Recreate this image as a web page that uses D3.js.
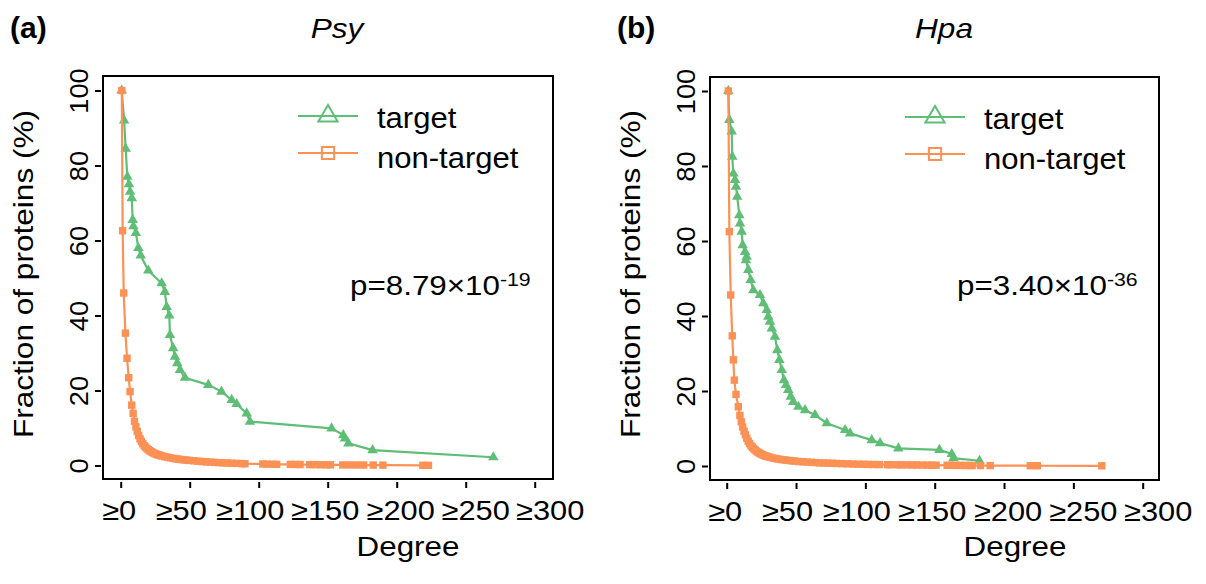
<!DOCTYPE html>
<html>
<head>
<meta charset="utf-8">
<script src="https://cdn.jsdelivr.net/npm/d3@7"></script>
<style>
  body { margin: 0; background: #fff; }
  svg { display: block; }
</style>
</head>
<body>
<div id="chart"></div>
<script>
// tick values
const degreeTicks = [0, 50, 100, 150, 200, 250, 300];
const pctTicks = [0, 20, 40, 60, 80, 100];
// the original spreads the crowded degree labels a little around their ticks
const degreeLabelNudge = [-2, -9, -9, -3, 3.5, 9.5, 15];

// Psy: [degree, fraction %]
const psyTarget = [
  [0.7, 100], [2.5, 92], [3.6, 84.5], [4.8, 77], [6, 75], [6.8, 73], [8, 71.3], [8.7, 65.5],
  [9.2, 63.8], [11, 62], [12.8, 58], [14.5, 56], [20, 52], [29.7, 48.6], [32, 46.3], [33.3, 42.3],
  [35.2, 40], [35.7, 34.8], [38, 31.3], [39.3, 29], [41, 27.3], [43, 25.5], [46.6, 23.4],
  [63.5, 21.5], [73, 19.7], [80.4, 17.5], [84, 16.4], [91.3, 13.9], [93.7, 11.7], [152.8, 9.9],
  [161.3, 8.1], [162.5, 7.2], [165, 5.9], [182.5, 4.1], [270, 2.2]
];
const psyNonTarget = [
  [0.8, 100], [1.4, 62.6], [2.2, 46], [3.4, 35.3], [4.6, 28.6], [5.8, 23.4], [6.8, 19.7], [8, 16.1],
  [9, 13.9], [10, 11.8], [11, 10.3], [12, 9.1], [13, 8], [14, 7.1], [15, 6.4], [16, 5.8], [17, 5.3],
  [18, 4.9], [19, 4.5], [20, 4.2], [21, 3.95], [22, 3.7], [23, 3.5], [24, 3.3], [25, 3.15], [26, 3],
  [27, 2.85], [28, 2.75], [29, 2.65], [30, 2.55], [32, 2.35], [34, 2.2], [36, 2.05], [38, 1.9],
  [40, 1.78], [42, 1.68], [44, 1.58], [46, 1.5], [48, 1.42], [50, 1.35], [53, 1.25], [56, 1.15],
  [59, 1.05], [62, 0.98], [65, 0.9], [68, 0.83], [71, 0.77], [74, 0.72], [77, 0.67], [80, 0.62],
  [84, 0.56], [88, 0.5], [90, 0.46], [103, 0.4], [106, 0.37], [110, 0.34], [113, 0.32], [123, 0.3],
  [127, 0.28], [130, 0.26], [137, 0.24], [141, 0.22], [145, 0.2], [149, 0.19], [152, 0.18],
  [161, 0.16], [166, 0.15], [171, 0.14], [176, 0.13], [183, 0.12], [190, 0.1], [219, 0.06], [223, 0.05]
];

// Hpa: [degree, fraction %]
const hpaTarget = [
  [1.2, 100], [1.9, 92.3], [3.6, 89.2], [4, 82.5], [4.8, 78], [6, 76.3], [6.7, 74.5], [7.6, 71.8],
  [9.1, 66.9], [9.6, 64.7], [10.8, 62.5], [11.5, 58.9], [13.2, 57.1], [14.4, 55.8], [13.9, 54.9],
  [15.6, 52.3], [17.3, 49.6], [19.2, 46.9], [24, 45.6], [26.4, 43.4], [28.9, 41.6], [30, 39.8],
  [31.2, 38.5], [32.5, 36.7], [34.8, 34.5], [36.5, 30.9], [38, 28.3], [39.7, 25.6], [41.3, 22.9],
  [42.8, 21.6], [44.4, 20.3], [46.2, 18.5], [48, 17.1], [51.7, 15.8], [56.5, 14.9], [63.7, 13.6],
  [72.2, 11.4], [85.4, 9.6], [89, 8.7], [104.6, 6.9], [110.6, 6.1], [123.8, 4.7], [153.4, 4.3],
  [162.3, 3.2], [163.5, 2.1], [182.3, 1.4]
];
const hpaNonTarget = [
  [1.2, 100], [1.9, 62.5], [2.9, 45.6], [4, 34.7], [4.8, 28.3], [5.5, 22.9], [6.7, 19.1], [8.4, 15.8],
  [9.5, 13.5], [10.5, 11.8], [11.5, 10.4], [12.5, 9.3], [13.5, 8.3], [14.5, 7.4], [15.5, 6.6],
  [16.5, 6], [17.5, 5.4], [18.5, 5], [19.5, 4.6], [20.5, 4.25], [21.5, 3.95], [22.5, 3.7], [23.5, 3.45],
  [24.5, 3.25], [25.5, 3.05], [26.5, 2.9], [27.5, 2.75], [28.5, 2.6], [29.5, 2.5], [31, 2.35],
  [33, 2.15], [35, 2], [37, 1.85], [39, 1.75], [41, 1.65], [43, 1.55], [45, 1.47], [47, 1.4],
  [49, 1.32], [52, 1.2], [55, 1.12], [58, 1.04], [61, 0.97], [64, 0.91], [67, 0.85], [70, 0.8],
  [73, 0.76], [76, 0.72], [79, 0.68], [83, 0.63], [87, 0.58], [91, 0.53], [95, 0.48], [99, 0.45],
  [102, 0.42], [106, 0.4], [110, 0.38], [116, 0.35], [118, 0.34], [123, 0.32], [126, 0.31],
  [130, 0.3], [134, 0.28], [137, 0.27], [141, 0.25], [145, 0.24], [148, 0.22], [151, 0.21],
  [159, 0.19], [162, 0.18], [165, 0.17], [168, 0.16], [172, 0.15], [175, 0.14], [177, 0.13],
  [183, 0.12], [190, 0.11], [219, 0.08], [224, 0.07], [270.5, 0.05]
];

const seriesNames = ["target", "non-target"];
const green = "#5fbe76", orange = "#fc9156";
const FONT = "'Liberation Sans', Arial, Helvetica, sans-serif";

const width = 1206, height = 584;
const svg = d3.select("#chart").append("svg")
  .attr("width", width)
  .attr("height", height)
  .style("font-family", FONT);

const panels = [
  { tag: "(a)", species: "Psy", p: "8.79", exp: "-19", target: psyTarget, nonTarget: psyNonTarget,
    l: 103, t: 76, r: 553, b: 479, x0: 120.7, x1: 534.7, y0: 465.5, y1: 90.5 },
  { tag: "(b)", species: "Hpa", p: "3.40", exp: "-36", target: hpaTarget, nonTarget: hpaNonTarget,
    l: 710, t: 77, r: 1159, b: 480, x0: 726.7, x1: 1142.7, y0: 466, y1: 91 }
];

// text with a slight horizontal stretch, like the original
function stext(parent, x, y, str, size, sx, rot) {
  return parent.append("text")
    .attr("transform", `translate(${x},${y})` + (rot ? ` rotate(${rot})` : "") + ` scale(${sx},1)`)
    .attr("font-size", size)
    .attr("fill", "#000")
    .text(str);
}

panels.forEach(p => {
  const g = svg.append("g");
  const x = d3.scaleLinear().domain([0, 300]).range([p.x0, p.x1]);
  const y = d3.scaleLinear().domain([0, 100]).range([p.y0, p.y1]);

  // frame
  g.append("rect")
    .attr("x", p.l).attr("y", p.t)
    .attr("width", p.r - p.l).attr("height", p.b - p.t)
    .attr("fill", "none").attr("stroke", "#000").attr("stroke-width", 2);

  // x axis
  const xa = g.append("g")
    .attr("transform", `translate(0,${p.b + 3})`)
    .call(d3.axisBottom(x).tickValues(degreeTicks).tickSize(6).tickFormat(d => "≥" + d));
  xa.select(".domain").remove();
  xa.selectAll(".tick line").attr("stroke", "#000").attr("stroke-width", 2);
  xa.selectAll(".tick text")
    .attr("y", 38).attr("dy", 0)
    .attr("font-size", 28).attr("font-family", FONT).attr("fill", "#000")
    .attr("transform", (d, i) => `translate(${degreeLabelNudge[i]},0) scale(1.1,1)`);

  // y axis
  const ya = g.append("g")
    .attr("transform", `translate(${p.l - 2},0)`)
    .call(d3.axisLeft(y).tickValues(pctTicks).tickSize(6));
  ya.select(".domain").remove();
  ya.selectAll(".tick line").attr("stroke", "#000").attr("stroke-width", 2);
  ya.selectAll(".tick text")
    .attr("x", 0).attr("y", 0).attr("dy", 0)
    .attr("text-anchor", "middle")
    .attr("font-size", 26).attr("font-family", FONT).attr("fill", "#000")
    .attr("transform", "translate(-13,0) rotate(-90) scale(1.05,1)");

  // axis titles
  stext(g, p.l - 70, 274, "Fraction of proteins (%)", 27, 1.17, -90).attr("text-anchor", "middle");
  stext(g, p.l + 305, 556, "Degree", 28, 1.12).attr("text-anchor", "middle");

  // panel tag and species
  g.append("text").attr("x", p.l - 93).attr("y", 38)
    .attr("font-size", 30).attr("font-weight", "bold").text(p.tag);
  stext(g, p.l + 234, 38, p.species, 27, 1.17)
    .attr("text-anchor", "middle").attr("font-style", "italic");

  // p value
  const pt = stext(g, p.l + 247, 295, "", 28, 1.12);
  pt.append("tspan").text(`p=${p.p}×10`);
  pt.append("tspan").attr("dy", -9).attr("font-size", 19).text(p.exp);

  // curves
  const line = d3.line().x(d => x(d[0])).y(d => y(d[1]));
  const tri = d3.symbol(d3.symbolTriangle, 48);
  const sq = d3.symbol(d3.symbolSquare, 55);

  g.append("path").datum(p.target)
    .attr("fill", "none").attr("stroke", green).attr("stroke-width", 2.2).attr("d", line);
  g.selectAll(null).data(p.target).enter().append("path")
    .attr("d", tri).attr("fill", green)
    .attr("transform", d => `translate(${x(d[0])},${y(d[1])})`);

  g.append("path").datum(p.nonTarget)
    .attr("fill", "none").attr("stroke", orange).attr("stroke-width", 2.2).attr("d", line);
  g.selectAll(null).data(p.nonTarget).enter().append("path")
    .attr("d", sq).attr("fill", orange)
    .attr("transform", d => `translate(${x(d[0])},${y(d[1])})`);

  // legend
  const legend = g.append("g");
  seriesNames.forEach((name, i) => {
    const ly = p.t + 40 + i * 37;
    const col = i === 0 ? green : orange;
    legend.append("line")
      .attr("x1", p.l + 195).attr("x2", p.l + 255)
      .attr("y1", ly).attr("y2", ly)
      .attr("stroke", col).attr("stroke-width", 2);
    legend.append("path")
      .attr("d", i === 0 ? d3.symbol(d3.symbolTriangle, 160)() : d3.symbol(d3.symbolSquare, 150)())
      .attr("fill", "none").attr("stroke", col).attr("stroke-width", 2)
      .attr("transform", `translate(${p.l + 225},${ly})`);
    stext(legend, p.l + 274, ly + 12 + i * 3, name, 29, 1.07);
  });
});
</script>
</body>
</html>
